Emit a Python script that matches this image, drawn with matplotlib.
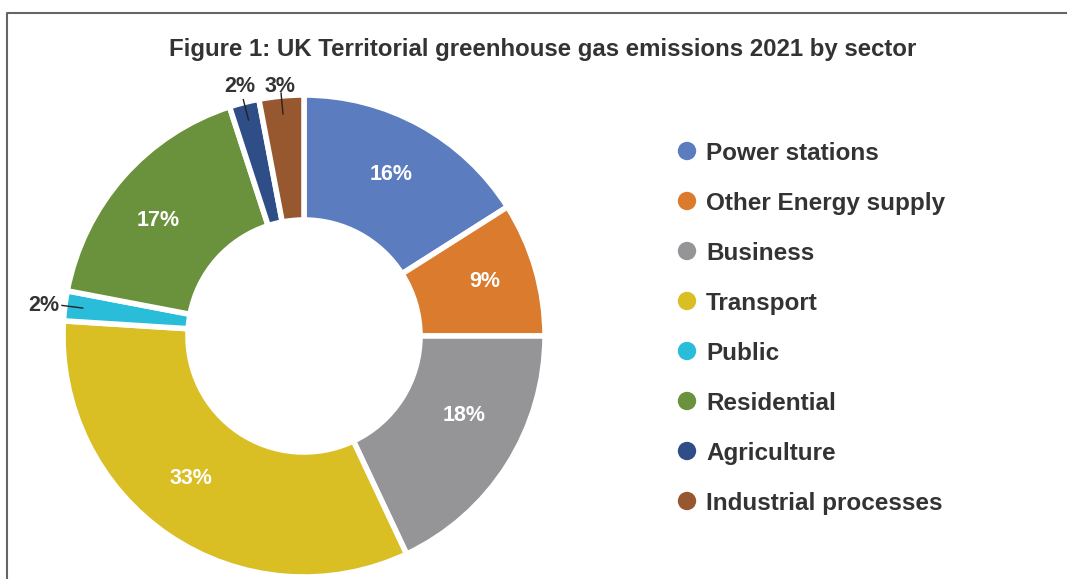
import numpy as np
import matplotlib.pyplot as plt

plt.rcParams['font.family'] = ['Liberation Sans', 'DejaVu Sans']

sectors = ['Power stations', 'Other Energy supply', 'Business', 'Transport',
           'Public', 'Residential', 'Agriculture', 'Industrial processes']
shares = [16, 9, 18, 33, 2, 17, 2, 3]
colours = ['#5b7dbf', '#db7b2d', '#959598', '#d9be24',
           '#29bdd9', '#6a913b', '#2f4d87', '#98582f']
# small slices get their label outside with a leader line (radius in px)
outside = {'Public': 262, 'Agriculture': 260, 'Industrial processes': 253}
# hand nudges (pixels) for the inner labels
nudge = {'Power stations': (-2, 1), 'Other Energy supply': (2, 5),
         'Business': (3, 23), 'Transport': (-8, 14), 'Residential': (-6, -5)}

W, H = 1067, 579
fig = plt.figure(figsize=(W / 100, H / 100), dpi=100)
ax = fig.add_axes([0, 0, 1, 1])

cx, cy, R = 304, H - 336, 241
wedges, _ = ax.pie(shares, colors=colours, startangle=90, counterclock=False,
                   center=(cx, cy), radius=R,
                   wedgeprops=dict(width=125, edgecolor='white', linewidth=4))
ax.set_xlim(0, W)
ax.set_ylim(0, H)
ax.set_aspect('equal')
ax.axis('off')

# frame round the figure (left and top edges visible)
ax.plot([7, 7, W + 5], [-5, H - 13, H - 13], color='#666666', lw=1.5,
        clip_on=False)

ax.text(543, H - 47, 'Figure 1: UK Territorial greenhouse gas emissions 2021 by sector',
        ha='center', va='center_baseline', fontsize=17.3, fontweight='bold',
        color='#333333')

for w, name, val in zip(wedges, sectors, shares):
    mid = np.deg2rad((w.theta1 + w.theta2) / 2)
    dx, dy = np.cos(mid), np.sin(mid)
    if name in outside:
        ax.plot([cx + dx * 223, cx + dx * 244], [cy + dy * 223, cy + dy * 244],
                color='#222222', lw=1)
        r = outside[name]
        ax.text(cx + dx * r, cy + dy * r, f'{val}%', ha='center',
                va='center_baseline', fontsize=15.5, fontweight='bold',
                color='#333333')
    else:
        nx, ny = nudge[name]
        ax.text(cx + dx * 186 + nx, cy + dy * 186 + ny, f'{val}%', ha='center',
                va='center_baseline', fontsize=15.5, fontweight='bold',
                color='white')

# legend
for i, (name, c) in enumerate(zip(sectors, colours)):
    y = H - (151 + 50 * i)
    ax.scatter(687, y, s=175, color=c, edgecolors='none')
    ax.text(706, y, name, ha='left', va='center_baseline', fontsize=17.5,
            fontweight='bold', color='#333333')

fig.savefig('out.png', dpi=100)
